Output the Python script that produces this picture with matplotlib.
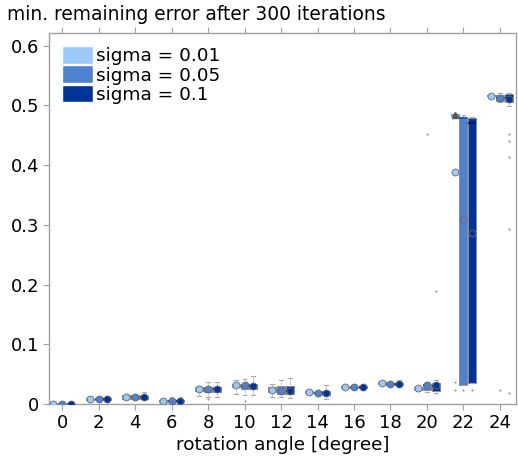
import matplotlib
matplotlib.use("Agg")
import matplotlib.pyplot as plt
from matplotlib.patches import Patch

# rotation angles (degree) and noise levels
angles = [0, 2, 4, 6, 8, 10, 12, 14, 16, 18, 20, 22, 24]
sigmas = ["0.01", "0.05", "0.1"]
colors = ["#9ccaf8", "#4f81cf", "#00349a"]
median_colors = ["#6f9fd6", "#2a5aa8", "#001f66"]

# box statistics per noise level, one entry per angle
lo_001 = [0.0, 0.006, 0.008, 0.002, 0.014, 0.016, 0.012, 0.016, 0.025, 0.031, 0.022, 0.480, 0.514]
q1_001 = [0.0, 0.007, 0.009, 0.003, 0.022, 0.028, 0.020, 0.018, 0.026, 0.033, 0.024, 0.482, 0.515]
med_001 = [0.0, 0.008, 0.012, 0.005, 0.025, 0.031, 0.023, 0.020, 0.028, 0.035, 0.026, 0.484, 0.516]
q3_001 = [0.0, 0.009, 0.015, 0.006, 0.028, 0.034, 0.028, 0.021, 0.029, 0.036, 0.028, 0.485, 0.517]
hi_001 = [0.0, 0.010, 0.016, 0.010, 0.030, 0.040, 0.034, 0.022, 0.031, 0.038, 0.030, 0.486, 0.518]
mean_001 = [0.0, 0.008, 0.012, 0.005, 0.025, 0.031, 0.023, 0.020, 0.028, 0.035, 0.026, 0.388, 0.516]

lo_005 = [0.0, 0.006, 0.007, 0.002, 0.012, 0.015, 0.012, 0.014, 0.025, 0.030, 0.020, 0.031, 0.506]
q1_005 = [0.0, 0.007, 0.008, 0.003, 0.020, 0.025, 0.017, 0.016, 0.026, 0.032, 0.024, 0.031, 0.508]
med_005 = [0.0, 0.008, 0.012, 0.005, 0.025, 0.030, 0.022, 0.018, 0.028, 0.033, 0.031, 0.478, 0.512]
q3_005 = [0.0, 0.009, 0.015, 0.007, 0.028, 0.034, 0.030, 0.020, 0.029, 0.035, 0.034, 0.481, 0.518]
hi_005 = [0.0, 0.011, 0.016, 0.012, 0.037, 0.042, 0.040, 0.022, 0.031, 0.037, 0.036, 0.484, 0.520]
mean_005 = [0.0, 0.008, 0.012, 0.005, 0.025, 0.031, 0.022, 0.018, 0.028, 0.033, 0.032, 0.310, 0.512]

lo_01 = [0.0, 0.003, 0.007, 0.002, 0.012, 0.015, 0.010, 0.008, 0.024, 0.028, 0.018, 0.035, 0.498]
q1_01 = [0.0, 0.006, 0.008, 0.003, 0.020, 0.025, 0.016, 0.015, 0.026, 0.031, 0.022, 0.035, 0.505]
med_01 = [0.0, 0.008, 0.011, 0.005, 0.025, 0.030, 0.022, 0.018, 0.028, 0.033, 0.030, 0.471, 0.512]
q3_01 = [0.0, 0.010, 0.014, 0.007, 0.028, 0.034, 0.030, 0.021, 0.030, 0.035, 0.035, 0.478, 0.519]
hi_01 = [0.0, 0.014, 0.020, 0.012, 0.037, 0.047, 0.043, 0.032, 0.032, 0.040, 0.040, 0.481, 0.520]
mean_01 = [0.0, 0.008, 0.011, 0.005, 0.025, 0.030, 0.022, 0.018, 0.028, 0.033, 0.031, 0.286, 0.510]

# outliers as (angle, value)
out_001 = [(22, 0.036), (22, 0.023)]
out_005 = [(8, 0.008), (10, 0.005), (20, 0.452), (22, 0.023), (24, 0.023)]
out_01 = [(20, 0.189), (22, 0.023), (24, 0.452), (24, 0.440), (24, 0.413),
          (24, 0.293), (24, 0.018)]

series = [
    (lo_001, q1_001, med_001, q3_001, hi_001, mean_001, out_001),
    (lo_005, q1_005, med_005, q3_005, hi_005, mean_005, out_005),
    (lo_01, q1_01, med_01, q3_01, hi_01, mean_01, out_01),
]
offsets = [-0.48, 0.0, 0.48]
box_width = 0.44

fig = plt.figure(figsize=(5.18, 4.59), dpi=100)
ax = fig.add_axes([49 / 518, 1 - 404 / 459, 467 / 518, 371 / 459])

for (lo, q1, med, q3, hi, mean, outs), off, col, mcol in zip(series, offsets, colors, median_colors):
    stats = []
    for i, a in enumerate(angles):
        stats.append(dict(whislo=lo[i], q1=q1[i], med=med[i], q3=q3[i],
                          whishi=hi[i], mean=mean[i],
                          fliers=[v for (aa, v) in outs if aa == a]))
    ax.bxp(stats, positions=[a + off for a in angles], widths=box_width,
           patch_artist=True, showmeans=True, showfliers=True,
           boxprops=dict(facecolor=col, edgecolor="#8a8a8a", linewidth=0.7),
           medianprops=dict(color=mcol, linewidth=1.6),
           whiskerprops=dict(color="#b8b8b8", linewidth=0.5),
           capprops=dict(color="#a8a8a8", linewidth=0.8),
           capwidths=0.2,
           meanprops=dict(marker="o", markerfacecolor=col, markeredgecolor="#6a6a6a",
                          markeredgewidth=0.6, markersize=5.0),
           flierprops=dict(marker="o", markersize=1.6, markerfacecolor="#9a9a9a",
                           markeredgecolor="none"),
           manage_ticks=False, zorder=3)

# collapsed box marker for sigma = 0.01 at 22 degree
ax.plot([angles[11] + offsets[0]], [med_001[11]], marker="^", color="#555555",
        markersize=4, zorder=4, clip_on=False)

ax.set_xlim(-0.72, 24.88)
ax.set_ylim(0, 0.621)
ax.set_xticks(angles)
ax.set_xticklabels([str(a) for a in angles])
ax.set_yticks([0, 0.1, 0.2, 0.3, 0.4, 0.5, 0.6])
ax.set_yticklabels(["0", "0.1", "0.2", "0.3", "0.4", "0.5", "0.6"])

for s in ax.spines.values():
    s.set_color("#a0a0a0")
    s.set_linewidth(1.0)
ax.tick_params(axis="both", direction="out", length=4, width=0.8, color="#a0a0a0",
               labelsize=13, pad=3)
ax.tick_params(axis="x", top=True, labeltop=False)

ax.set_xlabel("rotation angle [degree]", fontsize=13.2, labelpad=3)
fig.text(7 / 518, 1 - 14 / 459, "min. remaining error after 300 iterations",
         fontsize=13.4, ha="left", va="center")

handles = [Patch(facecolor=c, edgecolor="white", linewidth=1.0) for c in colors]
ax.legend(handles, [f"sigma = {s}" for s in sigmas], loc="upper left",
          bbox_to_anchor=(13 / 467, 1 - 13 / 371), frameon=False, fontsize=13.3,
          handlelength=1.7, handleheight=1.12, labelspacing=0.0, handletextpad=0.15,
          borderpad=0.0, borderaxespad=0.0)

fig.savefig("out.png", dpi=100)
